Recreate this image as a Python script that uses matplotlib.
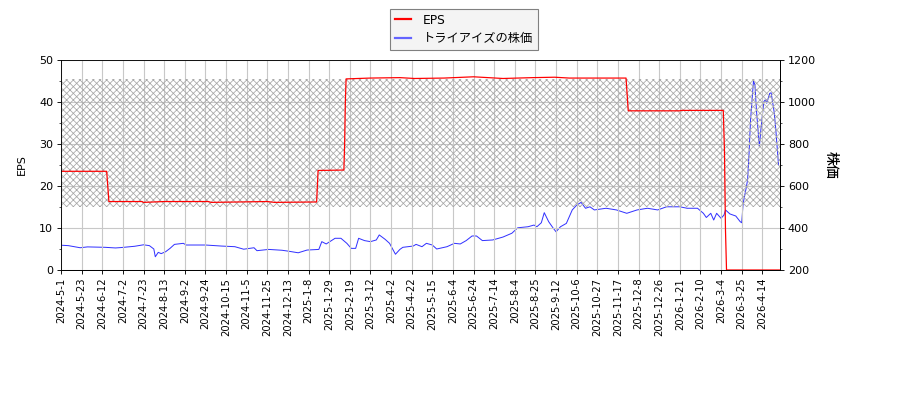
import matplotlib.pyplot as plt
from matplotlib.ticker import MultipleLocator

# x axis: trading-day index, a date label every 14 days
tick_labels = [
    '2024-5-1', '2024-5-23', '2024-6-12', '2024-7-2', '2024-7-23', '2024-8-13',
    '2024-9-2', '2024-9-24', '2024-10-15', '2024-11-5', '2024-11-25', '2024-12-13',
    '2025-1-8', '2025-1-29', '2025-2-19', '2025-3-12', '2025-4-2', '2025-4-22',
    '2025-5-15', '2025-6-4', '2025-6-24', '2025-7-14', '2025-8-4', '2025-8-25',
    '2025-9-12', '2025-10-6', '2025-10-27', '2025-11-17', '2025-12-8', '2025-12-26',
    '2026-1-21', '2026-2-10', '2026-3-4', '2026-3-25', '2026-4-14',
]
tick_step = 14
last_day = 488

# EPS (left axis)
eps_day = [0, 31, 32.5, 55, 56, 70, 100, 102, 140, 145, 173.5, 174.5, 192,
           192.5, 193, 193.5, 210, 230, 240, 260, 280, 300, 320, 335, 345,
           370, 383.5, 385, 420, 421, 449.5, 450.3, 451, 451.7, 488]
eps = [23.5, 23.5, 16.3, 16.3, 16.1, 16.3, 16.3, 16.1, 16.3, 16.1, 16.2, 23.7,
       23.8, 30, 40, 45.5, 45.7, 45.8, 45.6, 45.7, 46.0, 45.6, 45.8, 45.9,
       45.7, 45.7, 45.7, 37.9, 37.9, 38.0, 38.0, 28.5, 9.5, 0, 0]

# share price (right axis)
price_day = [0, 5, 13, 18, 30, 37, 41, 50, 56, 60, 63, 64, 66, 68, 71, 74, 77,
             83, 85, 98, 109, 118, 124, 131, 133, 141, 150, 154, 161, 167, 175,
             177, 180, 186, 190, 194, 197, 200, 202, 206, 210, 214, 216, 220,
             223, 227, 230, 232, 239, 241, 245, 248, 252, 255, 262, 267, 271,
             275, 279, 282, 286, 293, 300, 306, 310, 317, 321, 323, 326, 328,
             331, 334, 336, 339, 343, 347, 350, 353, 356, 359, 362, 370, 377,
             384, 391, 398, 405, 411, 420, 425, 432, 436, 438, 441, 443, 445,
             448, 450, 451, 454, 458, 461, 462, 463, 465, 466, 467, 468, 470,
             471, 472, 474, 475, 477, 478, 479, 481, 482, 484, 485, 487]
price = [318, 316, 306, 310, 308, 305, 307, 313, 320, 316, 300, 263, 284, 278,
         287, 303, 322, 327, 319, 319, 314, 311, 299, 306, 292, 298, 294, 290,
         282, 295, 298, 335, 324, 351, 351, 327, 303, 303, 351, 340, 335, 343,
         367, 346, 327, 275, 298, 308, 314, 322, 311, 327, 319, 300, 311, 327,
         324, 340, 362, 362, 340, 343, 357, 375, 401, 406, 414, 406, 425, 473,
         430, 400, 382, 406, 422, 486, 509, 522, 494, 501, 486, 494, 486, 470,
         486, 494, 486, 501, 501, 494, 494, 470, 450, 470, 438, 470, 446, 462,
         486, 467, 457, 430, 425, 518, 589, 629, 756, 914, 1100, 1081, 962,
         787, 867, 1001, 1010, 994, 1041, 1044, 954, 882, 700]

plt.rcParams['font.family'] = ['DejaVu Sans', 'Noto Sans CJK JP']
plt.rcParams['hatch.linewidth'] = 0.7

fig = plt.figure(figsize=(11.25, 5), dpi=80)
ax1 = fig.add_axes([61 / 900, 130 / 400, 719 / 900, 210 / 400])
ax2 = ax1.twinx()

# hatched band
ax1.fill_between([0, last_day], 15, 45.4, facecolor='none', edgecolor='#a8a8a8',
                 hatch='xxxx', linewidth=0)

l1, = ax1.plot(eps_day, eps, color='red', linewidth=1.1, label='EPS')
l2, = ax2.plot(price_day, price, color='blue', linewidth=0.9, alpha=0.8,
               label='トライアイズの株価')

ax1.set_zorder(ax2.get_zorder() + 1)
ax1.patch.set_visible(False)

ax1.set_xlim(0, last_day)
ax1.set_ylim(0, 50)
ax2.set_ylim(200, 1200)
ax1.yaxis.set_major_locator(MultipleLocator(10))
ax1.yaxis.set_minor_locator(MultipleLocator(5))
ax2.yaxis.set_major_locator(MultipleLocator(200))
ax2.yaxis.set_minor_locator(MultipleLocator(100))

ax1.set_xticks([i * tick_step for i in range(len(tick_labels))])
ax1.set_xticklabels(tick_labels, rotation=90, fontsize=9)
ax1.tick_params(axis='y', labelsize=10)
ax2.tick_params(axis='y', labelsize=10)

ax1.grid(True, color='#c8c8c8', linewidth=1)
ax1.set_axisbelow(True)

ax1.set_ylabel('EPS', fontsize=10, labelpad=11)
ax2.set_ylabel('株価', fontsize=12.5, rotation=270, labelpad=20,
               family=['Noto Sans CJK JP'], fontweight='medium')

leg = fig.legend(handles=[l1, l2], loc='upper center',
                 bbox_to_anchor=(464 / 900, 0.978), borderaxespad=0,
                 fancybox=False, edgecolor='gray', facecolor='#f4f4f4',
                 framealpha=1, fontsize=11, handlelength=1.3,
                 handletextpad=1.0, labelspacing=0.45)
for h in leg.legend_handles:
    h.set_linewidth(2)
leg.legend_handles[1].set_color('#6464ff')
leg.legend_handles[1].set_alpha(1)

fig.savefig('out.png', dpi=80)
